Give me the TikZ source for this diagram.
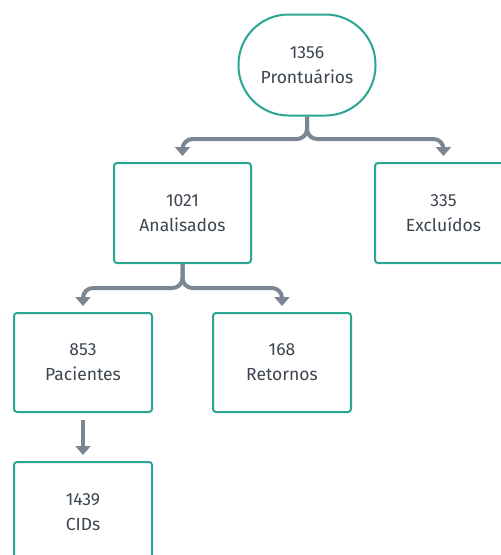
\documentclass[tikz,border=0pt]{standalone}
\usepackage{fontspec}
\setmainfont{Fira Sans}
\usetikzlibrary{arrows.meta}
\definecolor{teal1}{HTML}{2AA592}
\definecolor{txt}{HTML}{3D4550}
\definecolor{conn}{HTML}{7A8793}
\tikzset{
  box/.style={draw=teal1, line width=2pt, rounded corners=3pt, fill=white,
    minimum width=137pt, minimum height=100pt, inner sep=0pt, align=center,
    text=txt, font=\fontsize{17.5}{25}\selectfont},
  topbox/.style={box, rounded corners=50pt, minimum height=101pt},
  link/.style={draw=conn, line width=4pt, rounded corners=10pt,
    -{Triangle[width=15pt,length=9pt]}, shorten >=6pt}
}
\begin{document}
\begin{tikzpicture}[x=1pt,y=-1pt]
\useasboundingbox (0,0) rectangle (501,555);
\node[topbox] (pro) at (307,65) {1356\\Prontuários};
\node[box] (ana) at (182.5,213) {1021\\Analisados};
\node[box] (exc) at (443.5,213) {335\\Excluídos};
\node[box, minimum width=138pt, minimum height=99pt] (pac) at (83,362.5) {853\\Pacientes};
\node[box, minimum width=138pt, minimum height=99pt] (ret) at (282,362.5) {168\\Retornos};
\node[box, minimum width=138pt] (cid) at (83,512) {1439\\CIDs};
\coordinate (j1) at (307,139);
\coordinate (j2) at (182.5,288);
\draw[link] (pro.south) -- (j1) -- (j1 -| ana.north) -- (ana.north);
\draw[link] (pro.south) -- (j1) -- (j1 -| exc.north) -- (exc.north);
\draw[link] (ana.south) -- (j2) -- (j2 -| pac.north) -- (pac.north);
\draw[link] (ana.south) -- (j2) -- (j2 -| ret.north) -- (ret.north);
\draw[link, shorten <=7pt] (pac.south) -- (cid.north);
\end{tikzpicture}
\end{document}
